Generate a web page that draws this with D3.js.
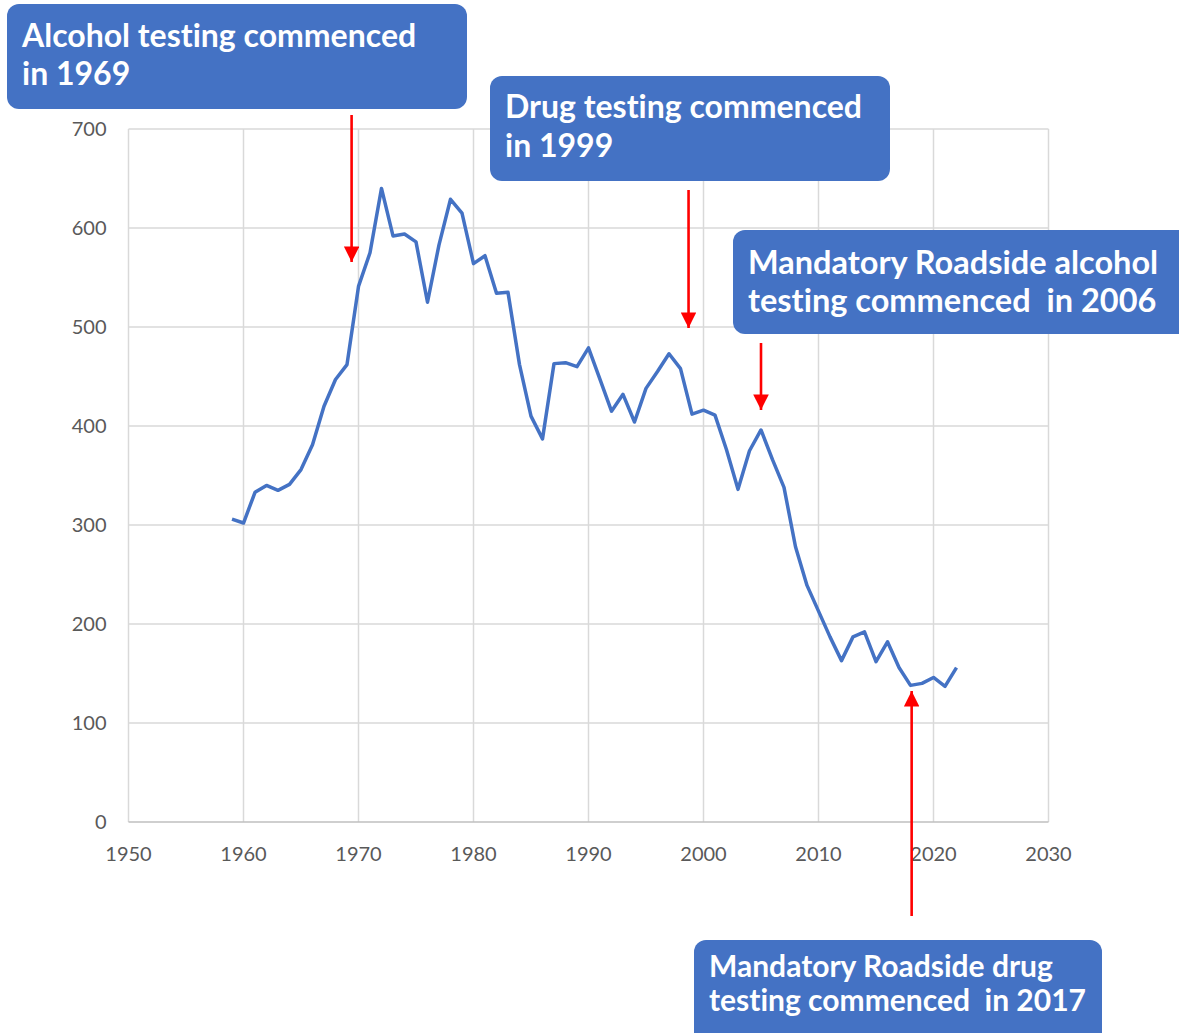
<!DOCTYPE html>
<html>
<head>
<meta charset="utf-8">
<script src="https://cdn.jsdelivr.net/npm/d3@7"></script>
<style>
  body { margin: 0; background: #fff; }
  svg { display: block; }
</style>
</head>
<body>
<div id="chart"></div>
<script>
const years = [1959, 1960, 1961, 1962, 1963, 1964, 1965, 1966, 1967, 1968, 1969,
  1970, 1971, 1972, 1973, 1974, 1975, 1976, 1977, 1978, 1979,
  1980, 1981, 1982, 1983, 1984, 1985, 1986, 1987, 1988, 1989,
  1990, 1991, 1992, 1993, 1994, 1995, 1996, 1997, 1998, 1999,
  2000, 2001, 2002, 2003, 2004, 2005, 2006, 2007, 2008, 2009,
  2010, 2011, 2012, 2013, 2014, 2015, 2016, 2017, 2018, 2019,
  2020, 2021, 2022];
const deaths = [306, 302, 333, 340, 335, 341, 356, 381, 420, 447, 462,
  541, 575, 640, 592, 594, 586, 525, 583, 629, 615,
  564, 572, 534, 535, 462, 410, 387, 463, 464, 460,
  479, 447, 415, 432, 404, 438, 455, 473, 458, 412,
  416, 411, 376, 336, 375, 396, 366, 338, 278, 239,
  213, 187, 163, 187, 192, 162, 182, 156, 138, 140,
  146, 137, 156];
const xTicks = [1950, 1960, 1970, 1980, 1990, 2000, 2010, 2020, 2030];
const yTicks = [0, 100, 200, 300, 400, 500, 600, 700];

// callout boxes: text lines + year the arrow points at
const notes = [
  {lines: ["Alcohol testing commenced", "in 1969"], box: [7, 4, 460, 105], fs: 32, top: 43, lh: 38, year: 1969.4, y1: 115, y2: 262},
  {lines: ["Drug testing commenced", "in 1999"], box: [490, 76, 400, 105], fs: 32, top: 42, lh: 38.5, year: 1998.7, y1: 190, y2: 328},
  {lines: ["Mandatory Roadside alcohol", "testing commenced  in 2006"], box: [733, 230, 460, 104], fs: 32.5, top: 44, lh: 37.5, year: 2005.0, y1: 343, y2: 410},
  {lines: ["Mandatory Roadside drug", "testing commenced  in 2017"], box: [694, 940, 408, 110], fs: 30, top: 37, lh: 34, year: 2018.1, y1: 916, y2: 691}
];

let margin = {top: 129, left: 128.5};
let width = 920, height = 693;

const svg = d3.select("#chart").append("svg")
  .attr("width", 1179).attr("height", 1033);

svg.append("defs").append("marker")
  .attr("id", "head")
  .attr("viewBox", "0 0 10 10")
  .attr("refX", 10).attr("refY", 5)
  .attr("markerWidth", 6).attr("markerHeight", 6)
  .attr("markerUnits", "strokeWidth")
  .attr("orient", "auto")
  .append("path").attr("d", "M0,0 L10,5 L0,10 Z").attr("fill", "#ff0000");

const g = svg.append("g")
  .attr("transform", "translate(" + margin.left + "," + margin.top + ")");

let x = d3.scaleLinear().domain([1950, 2030]).range([0, width]);
let y = d3.scaleLinear().domain([0, 700]).range([height, 0]);

// grid
g.append("g").selectAll("line").data(yTicks.slice(1)).enter().append("line")
  .attr("x1", 0).attr("x2", width)
  .attr("y1", d => y(d)).attr("y2", d => y(d))
  .attr("stroke", "#d9d9d9").attr("stroke-width", 1.5);
g.append("g").selectAll("line").data(xTicks).enter().append("line")
  .attr("x1", d => x(d)).attr("x2", d => x(d))
  .attr("y1", 0).attr("y2", height)
  .attr("stroke", "#d9d9d9").attr("stroke-width", 1.5);
g.append("line")
  .attr("x1", 0).attr("x2", width).attr("y1", height).attr("y2", height)
  .attr("stroke", "#bfbfbf").attr("stroke-width", 1.5);

// tick labels
g.append("g").selectAll("text").data(yTicks).enter().append("text")
  .attr("x", -22).attr("y", d => y(d)).attr("dy", "0.35em")
  .attr("text-anchor", "end")
  .style("font-family", "Lato, sans-serif").style("font-size", "20px")
  .attr("fill", "#595959")
  .text(d => d);
g.append("g").selectAll("text").data(xTicks).enter().append("text")
  .attr("x", d => x(d)).attr("y", height + 39)
  .attr("text-anchor", "middle")
  .style("font-family", "Lato, sans-serif").style("font-size", "20px")
  .attr("fill", "#595959")
  .text(d => d);

// series
const line = d3.line()
  .x((d, i) => x(years[i]))
  .y(d => y(d));
g.append("path")
  .datum(deaths)
  .attr("d", line)
  .attr("fill", "none")
  .attr("stroke", "#4472c4")
  .attr("stroke-width", 3.5)
  .attr("stroke-linejoin", "round");

// arrows
svg.append("g").selectAll("line").data(notes).enter().append("line")
  .attr("x1", d => margin.left + x(d.year)).attr("x2", d => margin.left + x(d.year))
  .attr("y1", d => d.y1).attr("y2", d => d.y2)
  .attr("stroke", "#ff0000").attr("stroke-width", 2.6)
  .attr("marker-end", "url(#head)");

// callouts
const boxes = svg.append("g").selectAll("g").data(notes).enter().append("g");
boxes.append("rect")
  .attr("x", d => d.box[0]).attr("y", d => d.box[1])
  .attr("width", d => d.box[2]).attr("height", d => d.box[3])
  .attr("rx", 12)
  .attr("fill", "#4472c4");
boxes.each(function (d) {
  const t = d3.select(this).append("text")
    .style("font-family", "Lato, sans-serif")
    .style("font-weight", "bold")
    .style("font-size", d.fs + "px")
    .style("font-variant-ligatures", "none")
    .attr("fill", "#fff")
    .attr("xml:space", "preserve");
  d.lines.forEach((s, i) => {
    t.append("tspan")
      .attr("x", d.box[0] + 15)
      .attr("y", d.box[1] + d.top + i * d.lh)
      .text(s);
  });
});
</script>
</body>
</html>
